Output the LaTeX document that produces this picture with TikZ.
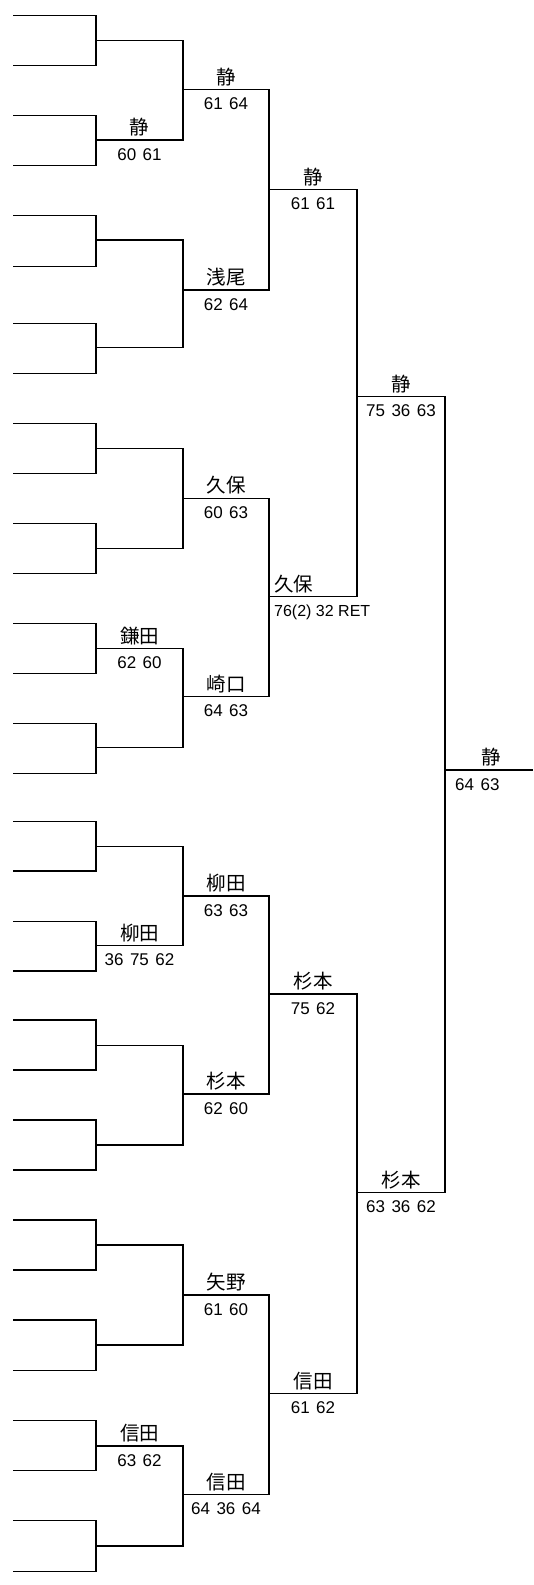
\documentclass[tikz,border=0pt]{standalone}
\usepackage{fontspec}
\newfontfamily\jp{Noto Sans CJK JP}
\newfontfamily\lat{Liberation Sans}
\usetikzlibrary{calc}
\newcommand\namefont{\jp\fontsize{19.5}{19.5}\selectfont}
\newcommand\scorefont{\lat\fontsize{17}{17}\selectfont\spaceskip=6.5pt\relax}
\newcommand\plainscorefont{\lat\fontsize{16}{16}\selectfont}
\newcommand\bracketlabel[4]{%
  \coordinate (m#1-#2) at ($(s#1-#2)!.5!(e#1-#2)$);
  \node[nm,anchor=south] (nm#1-#2) at ([yshift=3.5pt]m#1-#2) {#3};
  \node[sc,anchor=north] (sc#1-#2) at ([yshift=-8pt]m#1-#2) {#4};}
\begin{document}
\begin{tikzpicture}[x=1pt,y=-1pt,
  br/.style={line width=1.2pt, line join=miter, black},
  nm/.style={font=\namefont, inner sep=0pt},
  sc/.style={font=\scorefont, inner sep=0pt}]
\useasboundingbox (0,0) rectangle (533,1585);
% level 0 : entries
\foreach \y [count=\i from 0] in {15.7,65.7,115.7,165.7,215.7,266.7,323.3,373.3,423.3,473.3,523.3,573.3,623.3,673.3,723.3,773.3,821.7,871,921.7,971,1020,1070,1120,1170,1220,1270,1320,1370.7,1420.7,1470.7,1520.7,1571.7}{
  \coordinate (s0-\i) at (13,\y); \coordinate (e0-\i) at (96,\y);}
% level 1
\foreach \y [count=\i from 0] in {40.7,140,240,347.7,448.3,548.3,648.3,747.7,846.7,945.7,1045.7,1145,1245,1345,1446,1546}{
  \coordinate (s1-\i) at (96,\y); \coordinate (e1-\i) at (183,\y);}
% level 2
\foreach \y [count=\i from 0] in {89.3,290,498.3,696.7,896,1094,1295,1494.3}{
  \coordinate (s2-\i) at (183,\y); \coordinate (e2-\i) at (269,\y);}
% level 3
\foreach \y [count=\i from 0] in {189.3,596.7,994,1393.3}{
  \coordinate (s3-\i) at (269,\y); \coordinate (e3-\i) at (357,\y);}
% level 4
\foreach \y [count=\i from 0] in {396.7,1192.7}{
  \coordinate (s4-\i) at (357,\y); \coordinate (e4-\i) at (445,\y);}
% final
\coordinate (s5-0) at (445,770); \coordinate (e5-0) at (533,770);
% bracket lines
\foreach \L/\n in {0/15,1/7,2/3,3/1,4/0}{
  \foreach \i in {0,...,\n}{
    \pgfmathtruncatemacro\j{2*\i}
    \pgfmathtruncatemacro\k{2*\i+1}
    \draw[br] (s\L-\j) -- (e\L-\j) -- (e\L-\k) -- (s\L-\k);
  }
}
\draw[br] (s5-0) -- (e5-0);
% labels
\bracketlabel{1}{1}{静}{60 61}
\bracketlabel{1}{6}{鎌田}{62 60}
\bracketlabel{1}{9}{柳田}{36 75 62}
\bracketlabel{1}{14}{信田}{63 62}
\bracketlabel{2}{0}{静}{61 64}
\bracketlabel{2}{1}{浅尾}{62 64}
\bracketlabel{2}{2}{久保}{60 63}
\bracketlabel{2}{3}{崎口}{64 63}
\bracketlabel{2}{4}{柳田}{63 63}
\bracketlabel{2}{5}{杉本}{62 60}
\bracketlabel{2}{6}{矢野}{61 60}
\bracketlabel{2}{7}{信田}{64 36 64}
\bracketlabel{3}{0}{静}{61 61}
\node[nm,anchor=south west] (nm3-1) at ([shift={(5,-3.5)}]s3-1) {久保};
\node[font=\plainscorefont, inner sep=0pt, anchor=north west] (sc3-1) at ([shift={(5,8)}]s3-1) {76(2) 32 RET};
\bracketlabel{3}{2}{杉本}{75 62}
\bracketlabel{3}{3}{信田}{61 62}
\bracketlabel{4}{0}{静}{75 36 63}
\bracketlabel{4}{1}{杉本}{63 36 62}
\coordinate (m5-0) at ($(s5-0)!.5!(e5-0)$);
\node[nm,anchor=south] (nm5-0) at ([shift={(2,-3.5)}]m5-0) {静};
\node[sc,anchor=north west] (sc5-0) at ([shift={(10,8)}]s5-0) {64 63};
\end{tikzpicture}
\end{document}
